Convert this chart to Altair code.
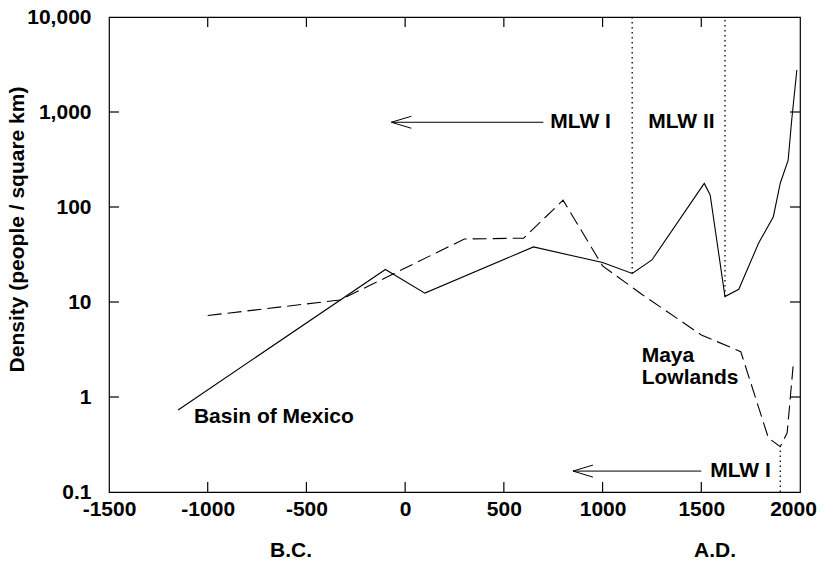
import altair as alt
import pandas as pd

FONT = "Liberation Sans"

# Basin of Mexico (solid line)
bm_year = [-1150, -100, 100, 650, 1000, 1150, 1250, 1515, 1545, 1620, 1690, 1790, 1865, 1900, 1940, 1958, 1984]
bm_density = [0.73, 22, 12.4, 38, 26, 20, 27.7, 177, 134, 11.4, 13.6, 41.5, 79, 178, 312, 824, 2770]

# Maya Lowlands (dashed line)
ml_year = [-1000, -330, 300, 600, 800, 1000, 1200, 1500, 1700, 1840, 1900, 1935, 1965]
ml_density = [7.2, 10.5, 46, 47, 118, 24, 12, 4.5, 3.0, 0.37, 0.30, 0.42, 2.1]

# dotted period dividers
div_year = [1150, 1620, 1900]
div_low = [20, 11.4, 0.1]
div_high = [10000, 10000, 0.30]

# arrows (tail year, tip year, density)
arrow_tail = [700, 1500]
arrow_tip = [-70, 850]
arrow_y = [780, 0.166]

# annotation texts
ann_text = ["MLW I", "MLW II", "MLW I", "Basin of Mexico", "Maya", "Lowlands"]
ann_year = [735, 1231, 1545, -1070, 1198, 1198]
ann_density = [780, 780, 0.166, 0.615, 2.7, 1.57]

era_text = ["B.C.", "A.D."]
era_year = [-578, 1570]

x_ticks = [-1500, -1000, -500, 0, 500, 1000, 1500, 2000]
y_ticks = [0.1, 1, 10, 100, 1000, 10000]
x_inner_ticks = [-1000, -500, 0, 500, 1000, 1500]
y_inner_ticks = [1, 10, 100, 1000]

W, H = 691, 475
TICK = 10

xscale = alt.Scale(domain=[-1500, 2000], nice=False, zero=False)
yscale = alt.Scale(type="log", domain=[0.1, 10000], nice=False)

x_main_axis = alt.Axis(orient="bottom", values=x_ticks, ticks=False, tickSize=0,
                       labelExpr="'' + datum.value",
                       labelOffset={"condition": {"test": "datum.value == 2000", "value": -7},
                                    "value": 0},
                       labelPadding=6, labelFontSize=21, labelFontWeight="bold",
                       labelFont=FONT, labelColor="black", domain=False,
                       title=None, grid=False, labelFlush=False, labelOverlap=False)
y_main_axis = alt.Axis(orient="left", values=y_ticks, ticks=False, tickSize=0,
                       format=",~g", labelPadding=18, labelFontSize=21,
                       labelFontWeight="bold", labelFont=FONT, labelColor="black",
                       domain=False, grid=False, labelFlush=False, labelOverlap=False,
                       title="Density (people / square km)", titleFontSize=21,
                       titleFontWeight="bold", titleFont=FONT, titleColor="black",
                       titlePadding=-1, titleY=212)

bm = pd.DataFrame({"year": bm_year, "density": bm_density})
ml = pd.DataFrame({"year": ml_year, "density": ml_density})
div = pd.DataFrame({"year": div_year, "low": div_low, "high": div_high})
arr = pd.DataFrame({"tail": arrow_tail, "tip": arrow_tip, "y": arrow_y})
ann = pd.DataFrame({"text": ann_text, "year": ann_year, "density": ann_density})
era = pd.DataFrame({"text": era_text, "year": era_year})
xt = pd.DataFrame({"v": x_inner_ticks})
yt = pd.DataFrame({"v": y_inner_ticks})

X = lambda f: alt.X(f, scale=xscale, axis=None)
Y = lambda f: alt.Y(f, scale=yscale, axis=None)

line_bm = alt.Chart(bm).mark_line(color="black", strokeWidth=1.1).encode(
    x=alt.X("year:Q", scale=xscale, axis=x_main_axis),
    y=alt.Y("density:Q", scale=yscale, axis=y_main_axis),
)

line_ml = alt.Chart(ml).mark_line(color="black", strokeWidth=1.1, strokeDash=[14, 6]).encode(
    x=X("year:Q"), y=Y("density:Q"),
)

dividers = alt.Chart(div).mark_rule(color="black", strokeWidth=1.3, strokeDash=[1.5, 3.5]).encode(
    x=X("year:Q"), y=Y("low:Q"), y2="high:Q",
)

arrow_lines = alt.Chart(arr).mark_rule(color="black", strokeWidth=1).encode(
    x=X("tail:Q"), x2="tip:Q", y=Y("y:Q"),
)

arrow_heads = alt.Chart(arr).mark_point(
    shape="M0,0L2,-0.6M0,0L2,0.6", size=400, filled=False,
    color="black", strokeWidth=1, opacity=1,
).encode(x=X("tip:Q"), y=Y("y:Q"))

tick_style = dict(color="black", strokeWidth=1.2)
ticks_bottom = alt.Chart(xt).mark_rule(**tick_style).encode(
    x=X("v:Q"), y=alt.value(H), y2=alt.value(H - TICK))
ticks_top = alt.Chart(xt).mark_rule(**tick_style).encode(
    x=X("v:Q"), y=alt.value(0), y2=alt.value(TICK))
ticks_left = alt.Chart(yt).mark_rule(**tick_style).encode(
    y=Y("v:Q"), x=alt.value(0), x2=alt.value(TICK))
ticks_right = alt.Chart(yt).mark_rule(**tick_style).encode(
    y=Y("v:Q"), x=alt.value(W), x2=alt.value(W - TICK))

texts = alt.Chart(ann).mark_text(
    align="left", baseline="middle", font=FONT, fontSize=21,
    fontWeight="bold", color="black",
).encode(x=X("year:Q"), y=Y("density:Q"), text="text:N")

eras = alt.Chart(era).mark_text(
    align="center", baseline="middle", font=FONT, fontSize=21,
    fontWeight="bold", color="black",
).encode(x=X("year:Q"), y=alt.value(H + 59), text="text:N")

chart = alt.layer(
    line_bm, line_ml, dividers, arrow_lines, arrow_heads,
    ticks_bottom, ticks_top, ticks_left, ticks_right, texts, eras
).resolve_scale(x="shared", y="shared").resolve_axis(
    x="independent", y="independent"
).properties(
    width=W, height=H,
    autosize=alt.AutoSizeParams(type="none"),
    padding={"left": 101, "top": 9, "right": 17, "bottom": 70},
    background="white",
).configure_view(stroke="black", strokeWidth=1.2)

chart.save("out.html", embed_options={"renderer": "svg", "actions": False})
